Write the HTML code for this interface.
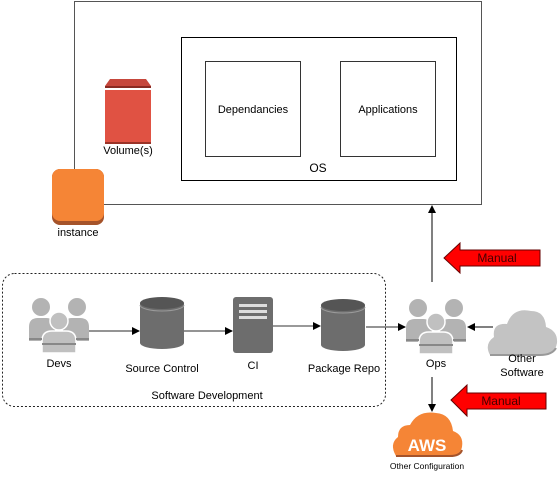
<!DOCTYPE html>
<html><head><style>
html,body{margin:0;padding:0;background:#fff;}
svg{display:block;font-family:"Liberation Sans",sans-serif;}
</style></head><body>
<svg width="558" height="479" viewBox="0 0 558 479" xmlns="http://www.w3.org/2000/svg">
<defs>
<marker id="ah" markerWidth="8" markerHeight="8" refX="7" refY="4" orient="auto" markerUnits="userSpaceOnUse">
<path d="M0,0 L8,4 L0,8 z" fill="#000"/></marker>
<g id="people">
 <circle cx="12" cy="10" r="9" fill="#b3b3b3"/>
 <circle cx="48" cy="10" r="9" fill="#b3b3b3"/>
 <path d="M0,44 V30 Q0,21 9,21 H17 Q26,21 26,30 V44 z" fill="#b3b3b3"/>
 <path d="M34,44 V30 Q34,21 43,21 H51 Q60,21 60,30 V44 z" fill="#b3b3b3"/>
 <circle cx="30" cy="24" r="9" fill="#c0c0c0" stroke="#fff" stroke-width="1.5"/>
 <path d="M13,56 V44 Q13,34 23,34 H37 Q47,34 47,44 V56 z" fill="#c0c0c0" stroke="#fff" stroke-width="1.5"/>
 <rect x="13" y="46" width="34" height="2" fill="#888"/>
 <rect x="0" y="41" width="13" height="2" fill="#888"/>
 <rect x="47" y="41" width="13" height="2" fill="#888"/>
</g>
<g id="cyl">
 <path d="M0,6 V46 A22,6 0 0 0 44,46 V6 z" fill="#6d6d6d"/>
 <ellipse cx="22" cy="6" rx="22" ry="6" fill="#555"/>
 <path d="M0,8 A22,6 0 0 0 44,8" fill="none" stroke="#9a9a9a" stroke-width="1"/>
</g>
</defs>

<rect x="74.5" y="1.5" width="407" height="203" fill="none" stroke="#555" stroke-width="1"/>
<rect x="181.5" y="37.5" width="275" height="143" fill="none" stroke="#000"/>
<rect x="205.5" y="61.5" width="95" height="95" fill="none" stroke="#333"/>
<rect x="340.5" y="61.5" width="95" height="95" fill="none" stroke="#333"/>
<text x="253" y="113" font-size="11" text-anchor="middle">Dependancies</text>
<text x="388" y="113" font-size="11" text-anchor="middle">Applications</text>
<text x="318" y="172" font-size="12" text-anchor="middle">OS</text>

<path d="M105,86 L110,79 H146 L151,86 z" fill="#c6473c"/>
<rect x="105" y="86" width="46" height="2" fill="#8a2a22"/>
<rect x="105" y="90" width="46" height="53" fill="#e05243"/>
<rect x="105" y="142" width="46" height="2" fill="#9a3328"/>
<text x="128" y="154" font-size="11" text-anchor="middle">Volume(s)</text>

<rect x="52" y="169" width="52" height="56" rx="8" fill="#a5532a"/>
<rect x="52" y="169" width="52" height="52" rx="8" fill="#f58536"/>
<text x="78" y="236" font-size="11" text-anchor="middle">instance</text>

<rect x="2.5" y="273.5" width="383" height="133" rx="12" fill="none" stroke="#222" stroke-dasharray="2,2"/>
<use href="#people" x="29" y="297"/>
<text x="59" y="367" font-size="11" text-anchor="middle">Devs</text>
<use href="#cyl" x="140" y="297"/>
<text x="162" y="372" font-size="11" text-anchor="middle">Source Control</text>
<rect x="233" y="297" width="40" height="56" rx="3" fill="#6d6d6d"/>
<rect x="239" y="304" width="28" height="3" fill="#ddd"/>
<rect x="239" y="310" width="28" height="3" fill="#ddd"/>
<rect x="239" y="316" width="28" height="3" fill="#ddd"/>
<text x="253" y="369" font-size="11" text-anchor="middle">CI</text>
<use href="#cyl" x="321" y="299"/>
<text x="344" y="372" font-size="11" text-anchor="middle">Package Repo</text>
<text x="207" y="399" font-size="11" text-anchor="middle">Software Development</text>

<line x1="89" y1="331" x2="139" y2="331" stroke="#555" stroke-width="1.2" marker-end="url(#ah)"/>
<line x1="184" y1="331" x2="232" y2="331" stroke="#555" stroke-width="1.2" marker-end="url(#ah)"/>
<line x1="273" y1="326" x2="320" y2="326" stroke="#333" stroke-width="1" marker-end="url(#ah)"/>
<line x1="366" y1="327" x2="405" y2="327" stroke="#555" stroke-width="1.2" marker-end="url(#ah)"/>

<use href="#people" x="406" y="298"/>
<text x="436" y="367" font-size="11" text-anchor="middle">Ops</text>
<line x1="432" y1="282" x2="432" y2="206" stroke="#000" marker-end="url(#ah)"/>
<line x1="432" y1="377" x2="432" y2="411" stroke="#000" marker-end="url(#ah)"/>
<line x1="493" y1="327" x2="468" y2="327" stroke="#000" marker-end="url(#ah)"/>

<path d="M444,258 L460,243 V250 H540 V266 H460 V273 z" fill="#f00" stroke="#600" stroke-width="1"/>
<text x="497" y="262" font-size="12" text-anchor="middle" fill="#400">Manual</text>
<path d="M451,400 L467,385 V393 H546 V409 H467 V416 z" fill="#f00" stroke="#600" stroke-width="1"/>
<text x="501" y="405" font-size="12" text-anchor="middle" fill="#400">Manual</text>

<path d="M490,355 Q484,344 494,337 Q492,323 507,324 Q513,307 531,311 Q545,311 546,327 Q558,331 557,343 Q555,355 540,355 z" fill="#c3c3c3"/>
<path d="M490,355 H540 Q552,355 556,348" fill="none" stroke="#999" stroke-width="2"/>
<text x="522" y="362" font-size="11" text-anchor="middle">Other</text>
<text x="522" y="376" font-size="11" text-anchor="middle">Software</text>

<path d="M396,456 Q389,444 398,437 Q398,425 410,425 Q418,410 436,413 Q451,414 453,431 Q464,435 462,447 Q460,456 450,456 z" fill="#f58536"/>
<path d="M396,456 H450 Q460,456 462,450" fill="none" stroke="#a5532a" stroke-width="2"/>
<text x="427" y="451" font-size="17" font-weight="bold" fill="#fff" text-anchor="middle">AWS</text>
<text x="427" y="469" font-size="8.5" text-anchor="middle">Other Configuration</text>
</svg>
</body></html>
